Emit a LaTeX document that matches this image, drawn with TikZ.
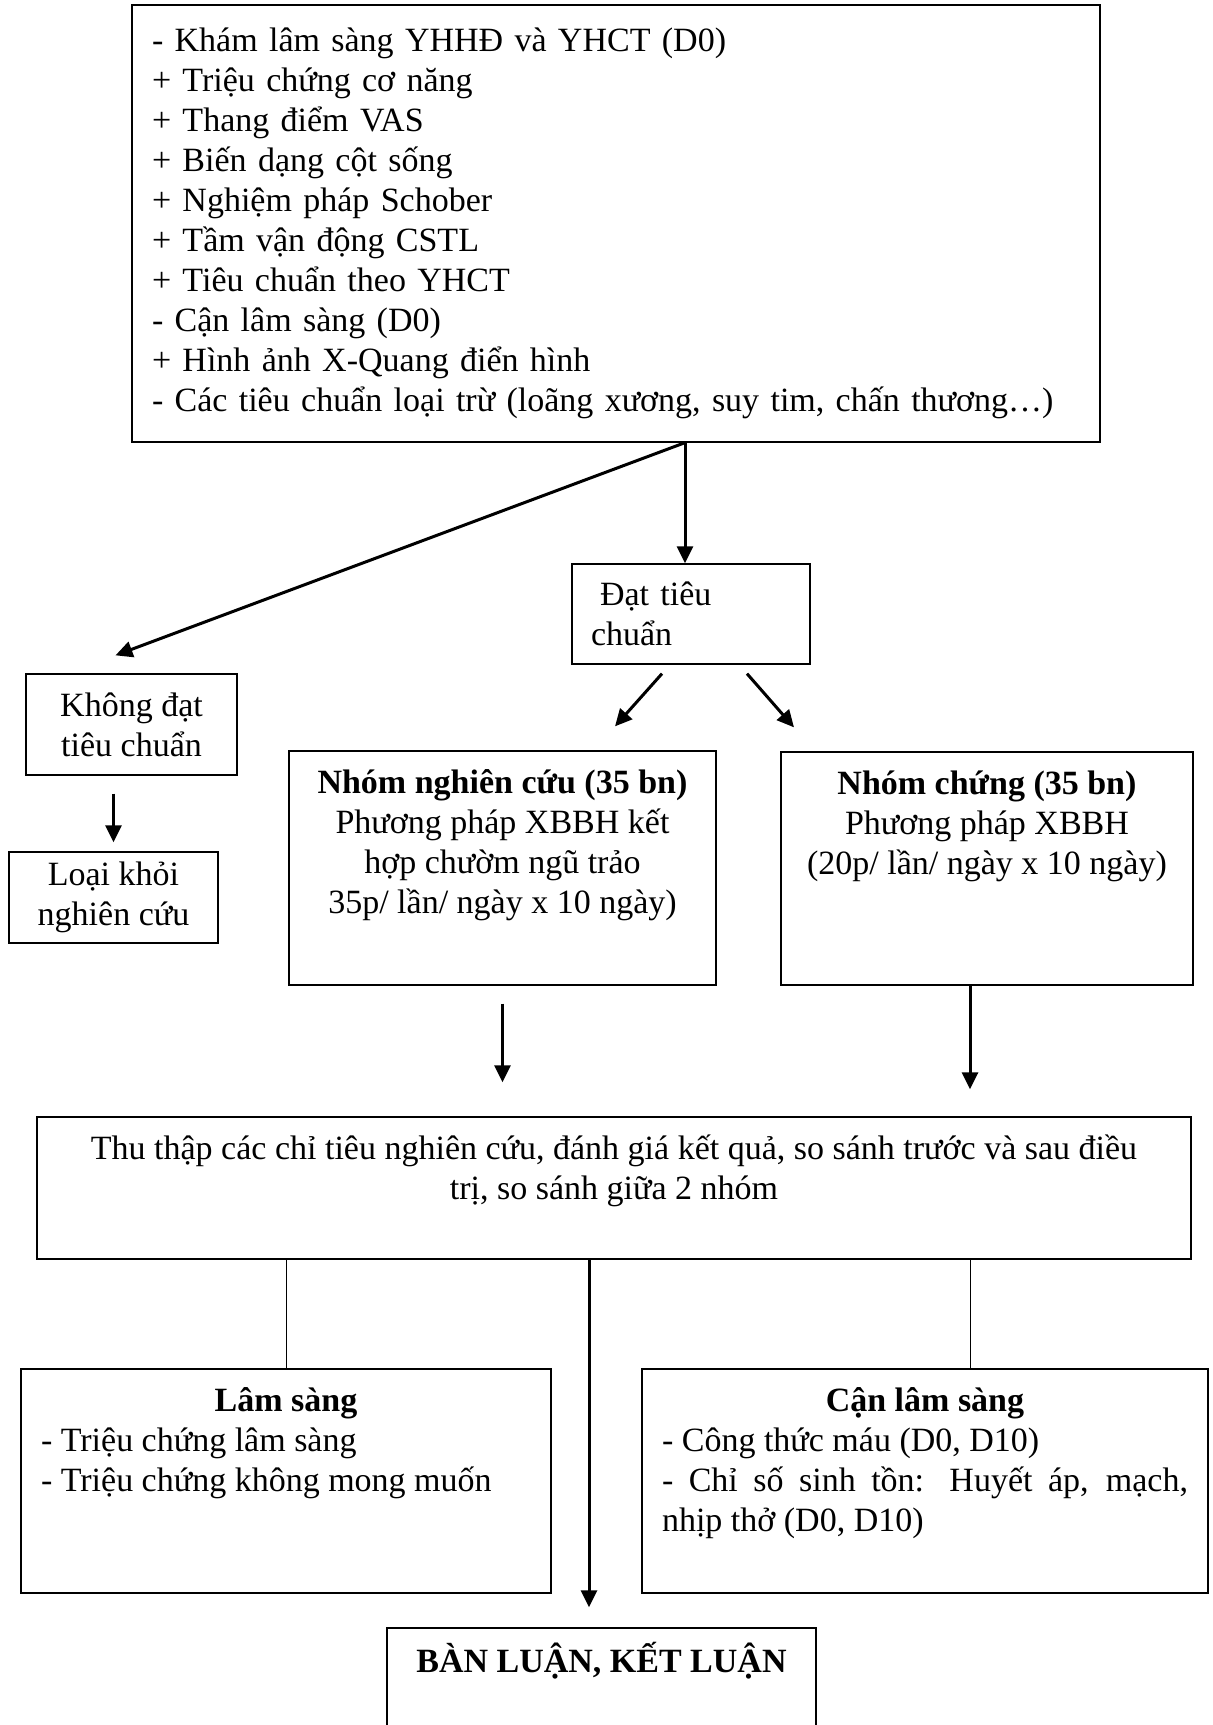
\documentclass[tikz,border=0pt]{standalone}
\usepackage{fontspec}
\setmainfont{Liberation Serif}
\usetikzlibrary{arrows.meta, calc}
\tikzset{
  every picture/.style={line width=1.3pt},
  box/.style={draw, inner sep=0pt, align=center},
  topbox/.style={draw, inner xsep=12pt, inner ysep=0pt},
  arrow/.style={-{Triangle[length=17pt, width=16pt]}, line width=3pt},
  link/.style={line width=1pt},
}
\newcommand{\toptext}[3]{\parbox[t][#2][t]{#1}{\vspace*{14pt}\strut#3}}

\begin{document}
\begin{tikzpicture}[x=1pt, y=-1pt, font=\fontsize{34}{40}\selectfont]
  \useasboundingbox (0,0) rectangle (1213,1725);
  % inclusion
  \node[box, align=left, text width=928pt, minimum width=968pt, minimum height=437pt] (kham) at (616,223.5) {- Khám lâm sàng YHHĐ và YHCT (D0)\\+ Triệu chứng cơ năng\\+ Thang điểm VAS\\+ Biến dạng cột sống\\+ Nghiệm pháp Schober\\+ Tầm vận động CSTL\\+ Tiêu chuẩn theo YHCT\\- Cận lâm sàng (D0)\\+ Hình ảnh X-Quang điển hình\\- Các tiêu chuẩn loại trừ (loãng xương, suy tim, chấn thương…)};
  \node[box, align=left, text width=200pt, minimum width=238pt, minimum height=100pt] (dat) at (691,614) {\hspace*{9pt}Đạt tiêu\\chuẩn};
  \node[box, minimum width=211pt, minimum height=101pt] (khongdat) at (131.5,724.5) {Không đạt\\tiêu chuẩn};
  \node[box, minimum width=209pt, minimum height=91pt] (loai) at (113.5,897.5) {Loại khỏi\\nghiên cứu};
  % groups
  \node[topbox] (nnc) at (502.5,868) {\toptext{403pt}{234pt}{\centering\textbf{Nhóm nghiên cứu (35 bn)}\\Phương pháp XBBH kết\\hợp chườm ngũ trảo\\35p/ lần/ ngày x 10 ngày)}};
  \node[topbox] (nc) at (987,868.5) {\toptext{388pt}{233pt}{\centering\textbf{Nhóm chứng (35 bn)}\\Phương pháp XBBH\\(20p/ lần/ ngày x 10 ngày)}};
  \node[topbox] (thuthap) at (614,1188) {\toptext{1130pt}{142pt}{\centering Thu thập các chỉ tiêu nghiên cứu, đánh giá kết quả, so sánh trước và sau điều\\trị, so sánh giữa 2 nhóm}};
  \node[topbox, inner xsep=20pt] (lamsang) at (286,1481) {\toptext{490pt}{224pt}{{\centering\textbf{Lâm sàng}\par}- Triệu chứng lâm sàng\\- Triệu chứng không mong muốn}};
  \node[topbox, inner xsep=20pt] (canls) at (925,1481) {\toptext{526pt}{224pt}{{\centering\textbf{Cận lâm sàng}\par}- Công thức máu (D0, D10)\\- Chỉ số sinh tồn: Huyết áp, mạch,\linebreak nhịp thở (D0, D10)}};
  \node[topbox] (banluan) at (601.5,1698) {\toptext{405pt}{140pt}{\centering\textbf{BÀN LUẬN, KẾT LUẬN}}};
  % connectors
  \coordinate (split) at ($(kham.south)+(69,0)$);
  \coordinate (ncout) at ($(nc.south)+(-17,0)$);
  \coordinate (mid) at ($(thuthap.south)+(-25,0)$);
  \draw[arrow] (split) -- (split |- dat.north);
  \draw[arrow] (split) -- ($(khongdat.north)+(-16,-18)$);
  \draw[arrow] ($(dat.south)+(-29,9)$) -- ($(nnc.north)+(112.5,-24)$);
  \draw[arrow] ($(dat.south)+(56,9)$) -- ($(nc.north)+(-193,-24)$);
  \draw[arrow, shorten <=18pt, shorten >=9pt] (loai.north |- khongdat.south) -- (loai.north);
  \draw[arrow, shorten <=18pt, shorten >=34pt] (nnc.south) -- (nnc.south |- thuthap.north);
  \draw[arrow, shorten >=27pt] (ncout) -- (ncout |- thuthap.north);
  \draw[link] (lamsang.north |- thuthap.south) -- (lamsang.north);
  \draw[link] (ncout |- thuthap.south) -- (ncout |- canls.north);
  \draw[arrow, shorten >=20pt] (mid) -- (mid |- banluan.north);
\end{tikzpicture}
\end{document}
